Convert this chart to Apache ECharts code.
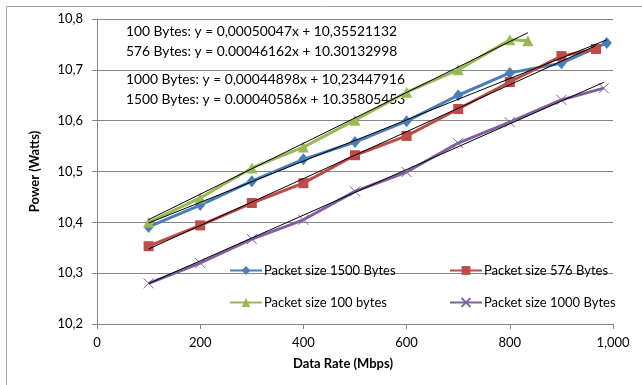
<!DOCTYPE html>
<html>
<head>
<meta charset="utf-8">
<script src="https://cdn.jsdelivr.net/npm/echarts@6/dist/echarts.min.js"></script>
<style>
  html, body { margin: 0; padding: 0; background: #fff; }
  #chart { width: 642px; height: 385px; }
</style>
</head>
<body>
<div id="chart"></div>
<script>
// Measured power per data rate for each packet size
const rate1500 = [100, 200, 300, 400, 500, 600, 700, 800, 900, 988];
const power1500 = [10.391, 10.434, 10.481, 10.524, 10.558, 10.599, 10.650, 10.694, 10.713, 10.753];

const rate576 = [100, 200, 300, 400, 500, 600, 700, 800, 900, 967];
const power576 = [10.353, 10.394, 10.438, 10.477, 10.532, 10.570, 10.623, 10.676, 10.727, 10.741];

const rate100 = [100, 200, 300, 400, 500, 600, 700, 800, 835];
const power100 = [10.400, 10.448, 10.507, 10.548, 10.601, 10.656, 10.700, 10.759, 10.757];

const rate1000 = [100, 200, 300, 400, 500, 600, 700, 800, 900, 982];
const power1000 = [10.280, 10.320, 10.367, 10.405, 10.461, 10.499, 10.556, 10.597, 10.641, 10.664];

// Linear fits, in the order they are listed in the annotation
const fitNames = ['100 Bytes', '576 Bytes', '1000 Bytes', '1500 Bytes'];
const fitSlopes = [0.00050047, 0.00046162, 0.00044898, 0.00040586];
const fitIntercepts = [10.35521132, 10.30132998, 10.23447916, 10.35805453];
const fitDecimalMarks = [',', '.', ',', '.'];

// Axis tick values
const yTicks = [10.2, 10.3, 10.4, 10.5, 10.6, 10.7, 10.8];
const xTicks = [0, 200, 400, 600, 800, 1000];

const FONT = 'Lato';
const colors = { b1500: '#4A7EBB', b576: '#BE4B48', b100: '#98B954', b1000: '#7D60A0' };

const zip = (xs, ys) => xs.map((x, i) => [x, ys[i]]);
const fitLine = (k, xs) => {
  const x0 = xs[0], x1 = xs[xs.length - 1];
  return [[x0, fitIntercepts[k] + fitSlopes[k] * x0], [x1, fitIntercepts[k] + fitSlopes[k] * x1]];
};
const fmt = (v, mark) => v.toFixed(8).replace('.', mark);

const crossPath = 'path://M0,0L10,10M10,0L0,10';

function dataSeries(name, xs, ys, color, symbol, size, extra) {
  return Object.assign({
    name, type: 'line', data: zip(xs, ys),
    symbol, symbolSize: size,
    lineStyle: { color, width: 3 },
    itemStyle: { color },
    z: 3, animation: false
  }, extra || {});
}
function trendSeries(k, xs) {
  return {
    name: 'fit ' + fitNames[k], type: 'line', data: fitLine(k, xs),
    symbol: 'none', lineStyle: { color: '#000', width: 1 },
    z: 4, animation: false, silent: true
  };
}

const eqTexts = fitNames.map((n, k) =>
  n + ': y = ' + fmt(fitSlopes[k], fitDecimalMarks[k]) + 'x + ' + fmt(fitIntercepts[k], fitDecimalMarks[k]));
const eqY = [33, 53, 81, 101];

const chart = echarts.init(document.getElementById('chart'), null, { renderer: 'canvas' });
chart.setOption({
  animation: false,
  backgroundColor: '#fff',
  textStyle: { fontFamily: FONT },
  grid: { left: 97, right: 29, top: 19, bottom: 61 },
  xAxis: {
    type: 'value', min: xTicks[0], max: xTicks[xTicks.length - 1], interval: 200,
    name: 'Data Rate (Mbps)', nameLocation: 'middle', nameGap: 33,
    nameTextStyle: { fontFamily: FONT, fontSize: 13, fontWeight: 'bold', color: '#000', padding: [0, 24, 0, 0] },
    axisLine: { lineStyle: { color: '#868686', width: 1 } },
    axisTick: { show: true, inside: false, length: 5, lineStyle: { color: '#868686' } },
    axisLabel: { fontFamily: FONT, fontSize: 13, color: '#000', margin: 12 },
    splitLine: { show: false }
  },
  yAxis: {
    type: 'value', min: yTicks[0], max: yTicks[yTicks.length - 1], interval: 0.1,
    name: 'Power (Watts)', nameLocation: 'middle', nameGap: 56,
    nameTextStyle: { fontFamily: FONT, fontSize: 13, fontWeight: 'bold', color: '#000' },
    axisLine: { show: true, lineStyle: { color: '#868686', width: 1 } },
    axisTick: { show: true, inside: false, length: 5, lineStyle: { color: '#868686' } },
    axisLabel: { fontFamily: FONT, fontSize: 13, color: '#000', margin: 14,
      formatter: v => v.toFixed(1).replace('.', ',') },
    splitLine: { show: true, lineStyle: { color: '#868686', width: 1 } }
  },
  legend: [
    {
      data: ['Packet size 1500 Bytes', 'Packet size 100 bytes'],
      orient: 'vertical', left: 224, top: 259, itemWidth: 32, itemHeight: 11, itemGap: 19,
      textStyle: { fontFamily: FONT, fontSize: 13, color: '#000', padding: [0, 0, 0, -3] }
    },
    {
      data: ['Packet size 576 Bytes', 'Packet size 1000 Bytes'],
      orient: 'vertical', left: 444, top: 259, itemWidth: 32, itemHeight: 11, itemGap: 19,
      textStyle: { fontFamily: FONT, fontSize: 13, color: '#000', padding: [0, 0, 0, -3] }
    }
  ],
  graphic: [
    {
      type: 'rect', left: 4, top: 4, silent: true,
      shape: { width: 660, height: 379 },
      style: { fill: 'none', stroke: '#A6A6A6', lineWidth: 1 }
    }
  ].concat(eqTexts.map((t, i) => ({
    type: 'text', left: 126, top: eqY[i] - 8, silent: true,
    style: { text: t, fontFamily: FONT, fontSize: 13.8, fill: '#000' }
  }))),
  series: [
    dataSeries('Packet size 1500 Bytes', rate1500, power1500, colors.b1500, 'diamond', [10, 12]),
    dataSeries('Packet size 576 Bytes', rate576, power576, colors.b576, 'rect', 10),
    dataSeries('Packet size 100 bytes', rate100, power100, colors.b100, 'triangle', 11),
    dataSeries('Packet size 1000 Bytes', rate1000, power1000, colors.b1000, crossPath, 10,
      { itemStyle: { color: colors.b1000, borderColor: colors.b1000, borderWidth: 1 } }),
    trendSeries(0, rate100),
    trendSeries(1, rate576),
    trendSeries(2, rate1000),
    trendSeries(3, rate1500)
  ]
});
</script>
</body>
</html>
